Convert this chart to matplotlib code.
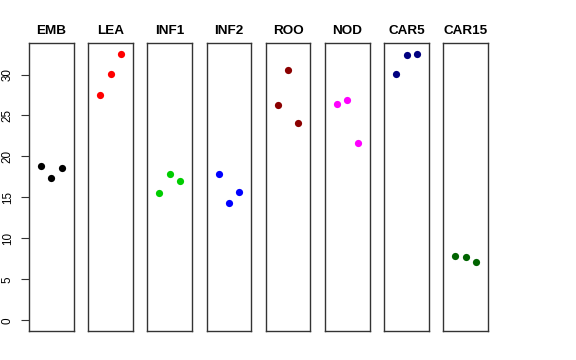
import matplotlib
matplotlib.use("Agg")
import matplotlib.pyplot as plt

plt.rcParams['font.family'] = ['Liberation Sans', 'DejaVu Sans']

groups = ["EMB", "LEA", "INF1", "INF2", "ROO", "NOD", "CAR5", "CAR15"]
colors = ["black", "#FF0000", "#00CD00", "#0000FF", "#8B0000", "#FF00FF", "#000080", "#006400"]
values = {
    "EMB":   [18.84, 17.37, 18.55],
    "LEA":   [27.52, 30.12, 32.47],
    "INF1":  [15.51, 17.82, 16.97],
    "INF2":  [17.86, 14.33, 15.67],
    "ROO":   [26.23, 30.53, 24.07],
    "NOD":   [26.35, 26.87, 21.64],
    "CAR5":  [30.08, 32.35, 32.51],
    "CAR15": [7.88, 7.72, 7.06],
}
yticks = [0, 5, 10, 15, 20, 25, 30]

W, H = 576, 360
fig = plt.figure(figsize=(W / 100, H / 100), dpi=100)

ymax = max(max(v) for v in values.values())
ylo, yhi = 0 - 0.04 * ymax, ymax + 0.04 * ymax

left0 = 29.0
pw = 44.6
step = 59.2
top = 43.3
bottom = 331.0

for i, (g, c) in enumerate(zip(groups, colors)):
    x0 = left0 + i * step
    ax = fig.add_axes([x0 / W, 1 - bottom / H, pw / W, (bottom - top) / H])
    vals = values[g]
    ax.plot(range(1, len(vals) + 1), vals, 'o', color=c, markersize=5.2, markeredgewidth=0)
    ax.set_xlim(-0.16, 4.16)
    ax.set_ylim(ylo, yhi)
    ax.set_xticks([])
    for s in ax.spines.values():
        s.set_linewidth(1.0)
        s.set_color('#333333')
    ax.set_title(g, fontsize=9.7, fontweight='bold', pad=7)
    if i == 0:
        ax.set_yticks(yticks)
        ax.set_yticklabels([str(t) for t in yticks], rotation=90, va='center', fontsize=8.4)
        ax.tick_params(axis='y', length=6, width=0.8, pad=5, color='#333333')
    else:
        ax.set_yticks([])

fig.savefig("out.png", dpi=100)
